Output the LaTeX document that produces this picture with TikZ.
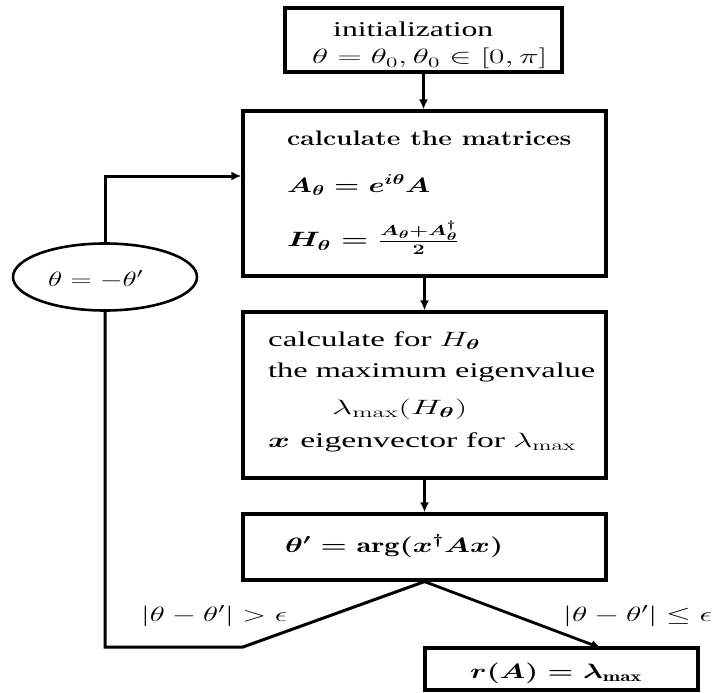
\documentclass[tikz,border=0pt]{standalone}
\usepackage{amsmath,bm}
\usepackage{fontspec}
\newfontfamily\timesfont{Liberation Serif}
\usepackage{graphicx}
\usetikzlibrary{arrows.meta,shapes.geometric}
\tikzset{
  box/.style={draw, line width=3.2pt, rectangle, inner sep=0pt},
  oval/.style={draw, line width=2.6pt, ellipse, inner sep=0pt, minimum width=184pt, minimum height=67pt},
  txt/.style={inner sep=0pt, anchor=base west, font=\fontsize{21}{25}\selectfont},
  conn/.style={line width=3pt, -{Latex[length=10pt,width=9pt]}},
  plainline/.style={line width=3pt},
}
\newcommand{\fitw}[2]{\resizebox{#1pt}{\height}{#2}}
\begin{document}
\begin{tikzpicture}[x=1pt,y=-1pt]
\useasboundingbox (0,0) rectangle (716,693);
\fill[white] (0,0) rectangle (716,693);

% boxes
\node[box, minimum width=277pt, minimum height=64pt] (b1) at (423.5,40) {};
\node[box, minimum width=363pt, minimum height=165pt] (b2) at (424.5,193.5) {};
\node[box, minimum width=363pt, minimum height=166pt] (b3) at (424.5,395) {};
\node[box, minimum width=363pt, minimum height=66pt] (b4) at (424.5,547) {};
\node[box, minimum width=273pt, minimum height=42pt] (fin) at (561.5,669) {};
\node[oval] (el) at (105,277) {};

% texts
\node[txt] (t1) at (333,37) {\fitw{160}{\timesfont initialization}};
\node[txt] (t2) at (312,64) {\fitw{235}{$\theta=\theta_0,\theta_0\in[0,\pi]$}};
\node[txt] (t3) at (287,145) {\fitw{284}{\bfseries calculate the matrices}};
\node[txt] (t4) at (287,192) {\fitw{143}{\boldmath$A_\theta=e^{i\theta}A$}};
\node[txt] (t5) at (287,247) {\fitw{172}{\boldmath$H_\theta=\frac{A_\theta+A_\theta^\dagger}{2}$}};
\node[txt] (t6) at (268,346) {\fitw{212}{\timesfont calculate for $H_{\bm\theta}$}};
\node[txt] (t7) at (268,377) {\fitw{327}{\timesfont the maximum eigenvalue}};
\node[txt] (t8) at (332,414) {\fitw{135}{$\lambda_{\max}(H_{\bm\theta})$}};
\node[txt] (t9) at (268,447) {\fitw{308}{$\bm{x}$ \timesfont eigenvector for $\lambda_{\max}$}};
\node[txt] (t10) at (285,552) {\fitw{218}{\boldmath$\theta'=\arg(\bm{x}^\dagger A\bm{x})$}};
\node[txt] (t11) at (141,621) {\fitw{146}{$|\theta-\theta'|>\epsilon$}};
\node[txt] (t12) at (563,621) {\fitw{149}{$|\theta-\theta'|\leq\epsilon$}};
\node[txt] (t13) at (470,678) {\fitw{172}{\boldmath$r(A)=\lambda_{\max}$}};
\node[txt] (t14) at (48,286) {\fitw{95}{$\theta=-\theta'$}};

% connectors
\coordinate (bendL) at (243,647);
\coordinate (cornerL) at (105,647);
\coordinate (tipR) at (601,648);
\coordinate (topL) at (105,176);

\draw[conn] (b1.south) -- (b1.south |- b2.north);
\draw[conn] (b2.south) -- (b3.north);
\draw[conn] (b3.south) -- (b4.north);
\draw[plainline] (b4.south) -- (bendL) -- (cornerL) -- (el.south);
\draw[conn, line width=2.8pt] (b4.south) -- (tipR);
\draw[conn] (el.north) -- (topL) -- (topL -| b2.west);
\end{tikzpicture}
\end{document}
